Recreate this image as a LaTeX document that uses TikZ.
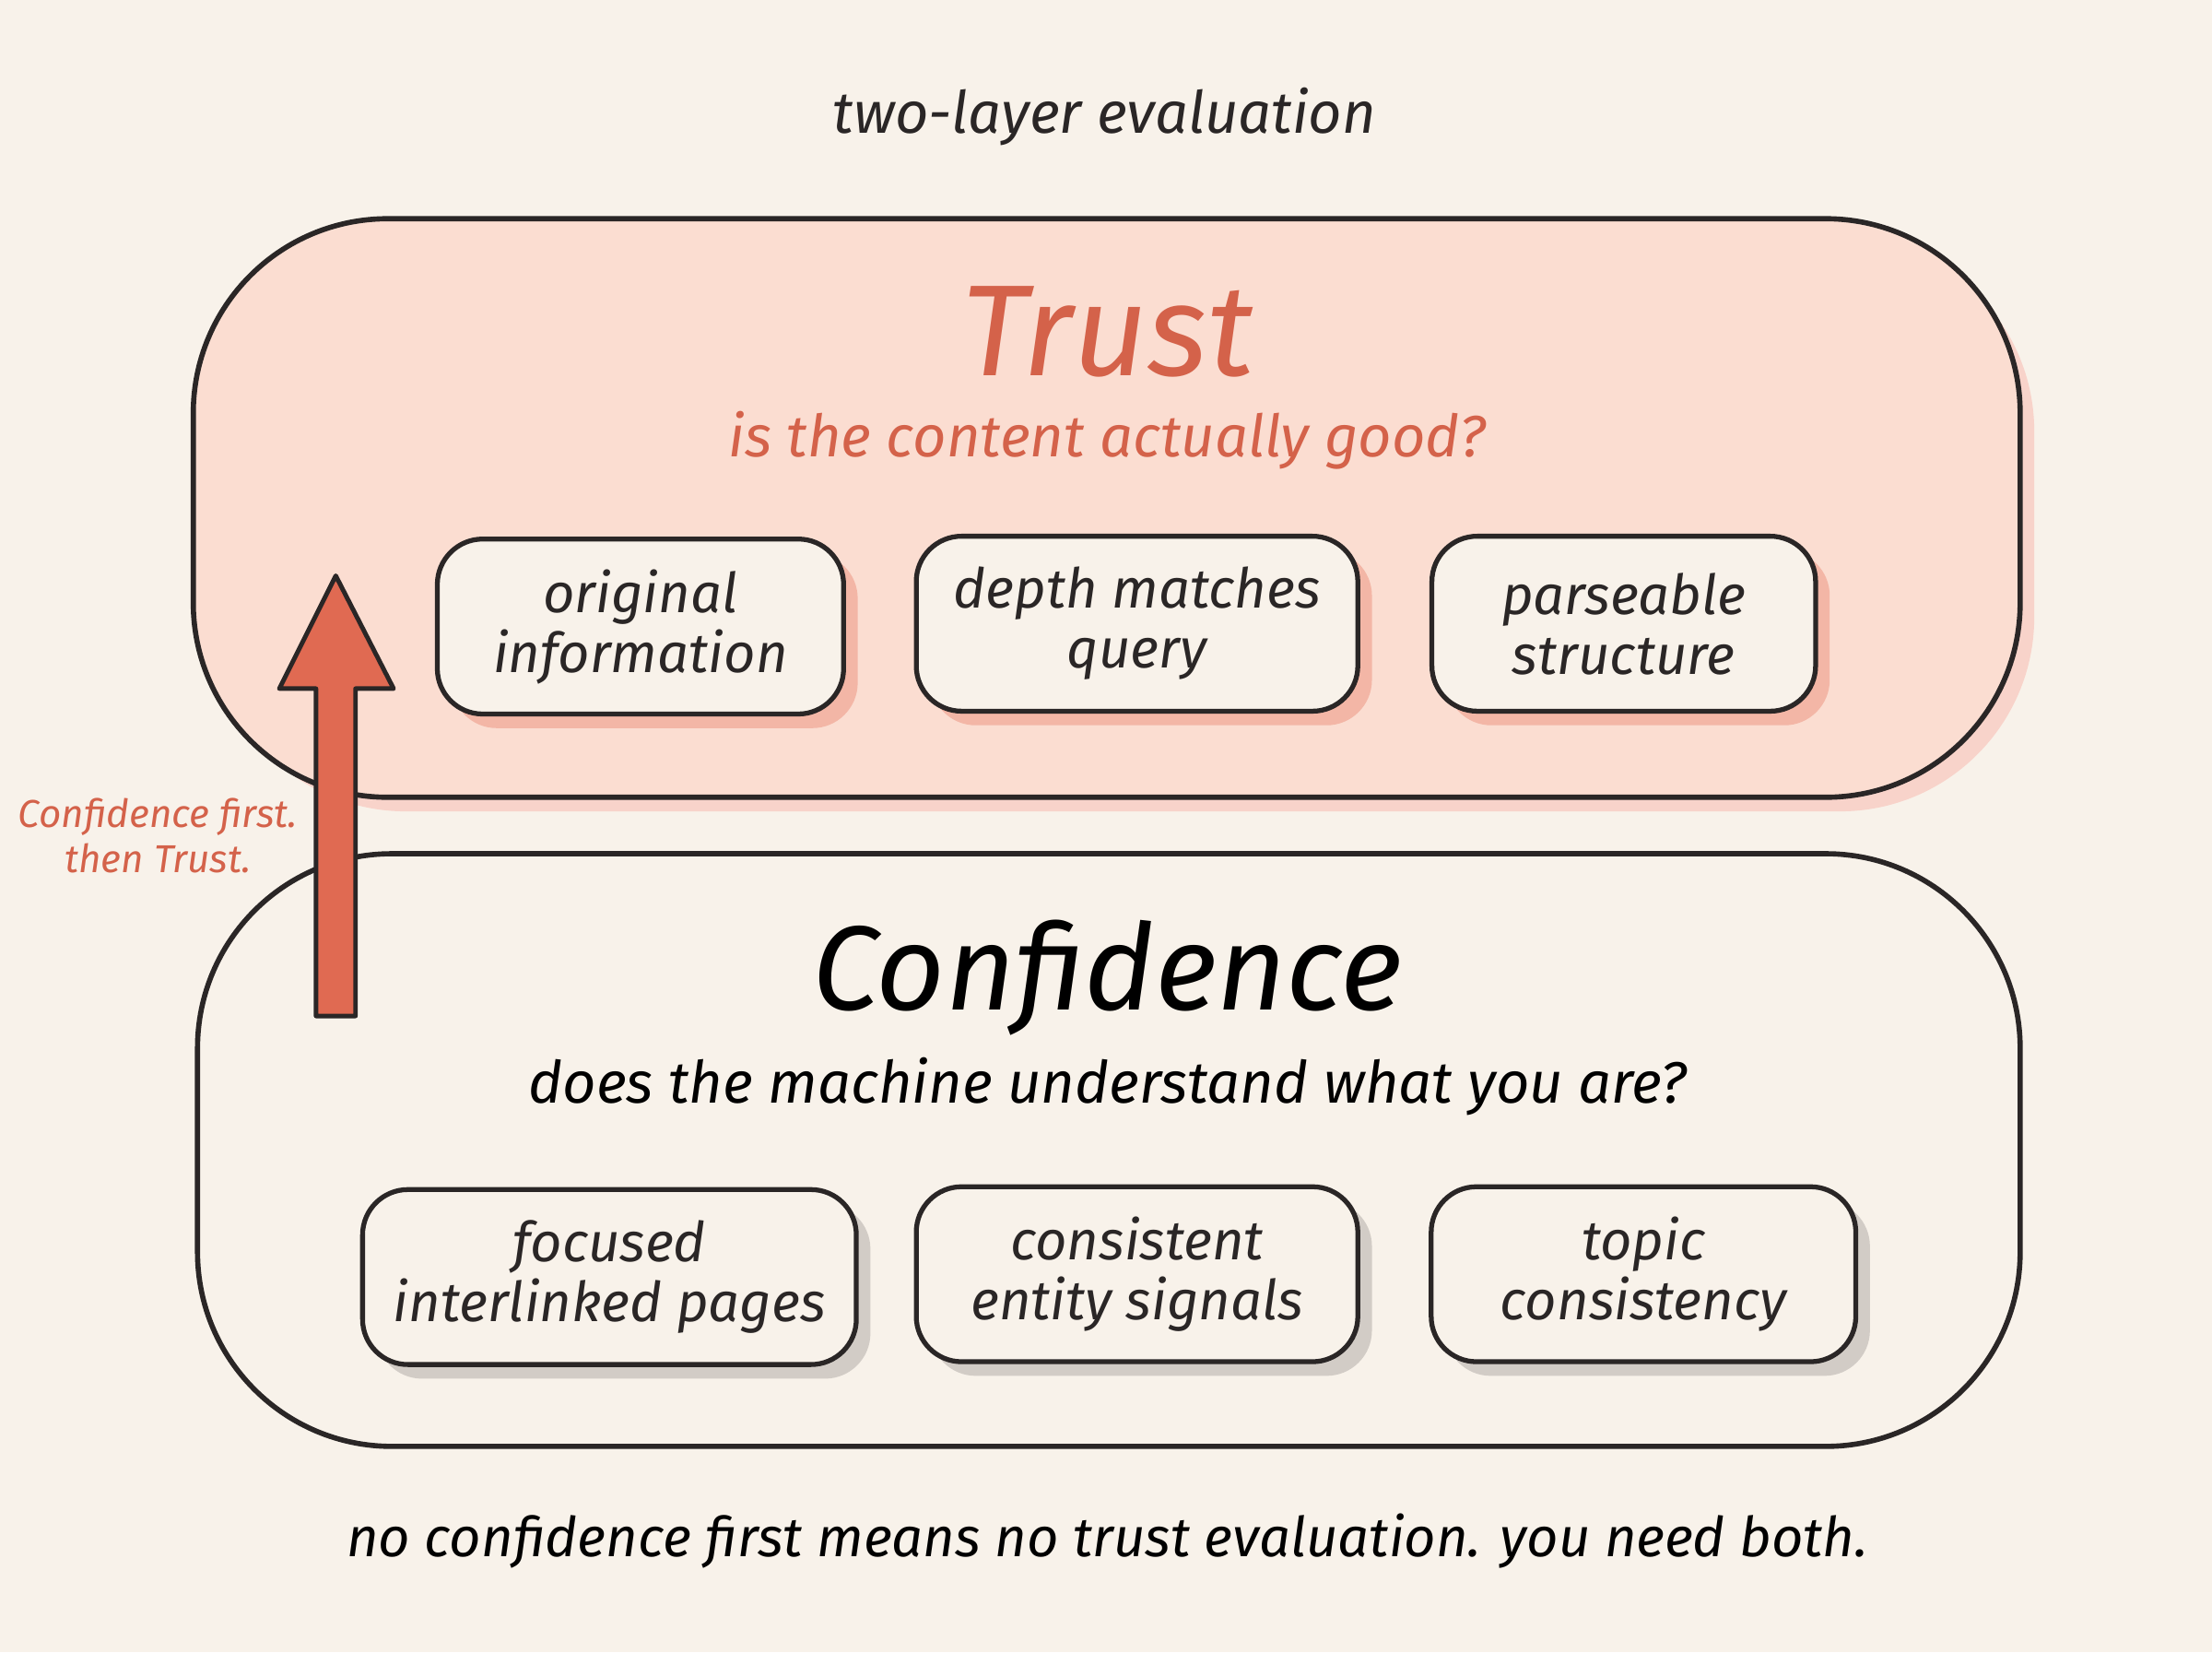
\documentclass[tikz,border=0pt]{standalone}
\usepackage{fontspec}
\setmainfont{Fira Sans}
\definecolor{bg}{HTML}{F8F2EA}
\definecolor{trustfill}{HTML}{FBDDD1}
\definecolor{accent}{HTML}{D4624A}
\definecolor{arrowfill}{HTML}{E06A52}
\definecolor{ink}{HTML}{2A2626}
\definecolor{pinkshadow}{HTML}{F3B6A6}
\definecolor{grayshadow}{HTML}{D2CCC6}
\begin{document}
\begin{tikzpicture}[x=0.015306cm,y=-0.015306cm,
  layer/.style={draw=ink,line width=1.6pt,rounded corners=60pt},
  item/.style={draw=ink,line width=1.5pt,rounded corners=14pt,fill=bg,align=center,
    font=\fontsize{17}{18.5}\selectfont\itshape,text=ink,inner sep=0pt},
  txt/.style={font=\itshape,align=center}]
\fill[bg] (0,0) rectangle (1568,1171);
\useasboundingbox (0,0) rectangle (1568,1171);
\node[txt,font=\fontsize{18}{20}\selectfont\itshape,text=ink] (title) at (783,83) {two-layer evaluation};
% trust layer
\fill[pinkshadow!60,rounded corners=60pt] (150,168) rectangle (1442,575);
\draw[layer,fill=trustfill] (137,155) rectangle (1432,565);
\node[txt,font=\fontsize{40}{42}\selectfont\itshape,text=accent] (trust) at (785,235) {Trust};
\node[txt,font=\fontsize{18}{20}\selectfont\itshape,text=accent] (trustq) at (785,312) {is the content actually good?};
\foreach \n/\cx/\cy/\w/\t in {t1/454/444/288/{original\\information},t2/806/442/313/{depth matches\\query},t3/1151/442/272/{parseable\\structure}}{
  \fill[pinkshadow,rounded corners=14pt] (\cx-\w/2+10,\cy-62+10) rectangle (\cx+\w/2+10,\cy+62+10);
  \node[item,minimum width=\w*0.015306cm,minimum height=124*0.015306cm] (\n) at (\cx,\cy) {\t};
}
% confidence layer
\draw[layer,fill=bg] (140,605) rectangle (1432,1025);
\node[txt,font=\fontsize{37}{40}\selectfont\itshape,text=black] (conf) at (785,693) {Confidence};
\node[txt,font=\fontsize{18}{20}\selectfont\itshape,text=black] (confq) at (785,770) {does the machine understand what you are?};
\foreach \n/\cx/\cy/\w/\t in {c1/432/905/350/{focused\\interlinked pages},c2/806/903/313/{consistent\\entity signals},c3/1165/903/301/{topic\\consistency}}{
  \fill[grayshadow,rounded corners=14pt] (\cx-\w/2+10,\cy-62+10) rectangle (\cx+\w/2+10,\cy+62+10);
  \node[item,minimum width=\w*0.015306cm,minimum height=124*0.015306cm] (\n) at (\cx,\cy) {\t};
}
% arrow
\draw[ink,line width=1.4pt,fill=arrowfill,line join=round]
  (224,720) -- (224,488) -- (198,488) -- (238,408) -- (279,488) -- (252,488) -- (252,720) -- cycle;
\node[txt,align=center,font=\fontsize{12}{14}\selectfont\itshape,text=accent] (side) at (112,592) {Confidence first.\\then Trust.};
\node[txt,font=\fontsize{17}{19}\selectfont\itshape,text=black] (foot) at (785,1092) {no confidence first means no trust evaluation. you need both.};
\end{tikzpicture}
\end{document}
